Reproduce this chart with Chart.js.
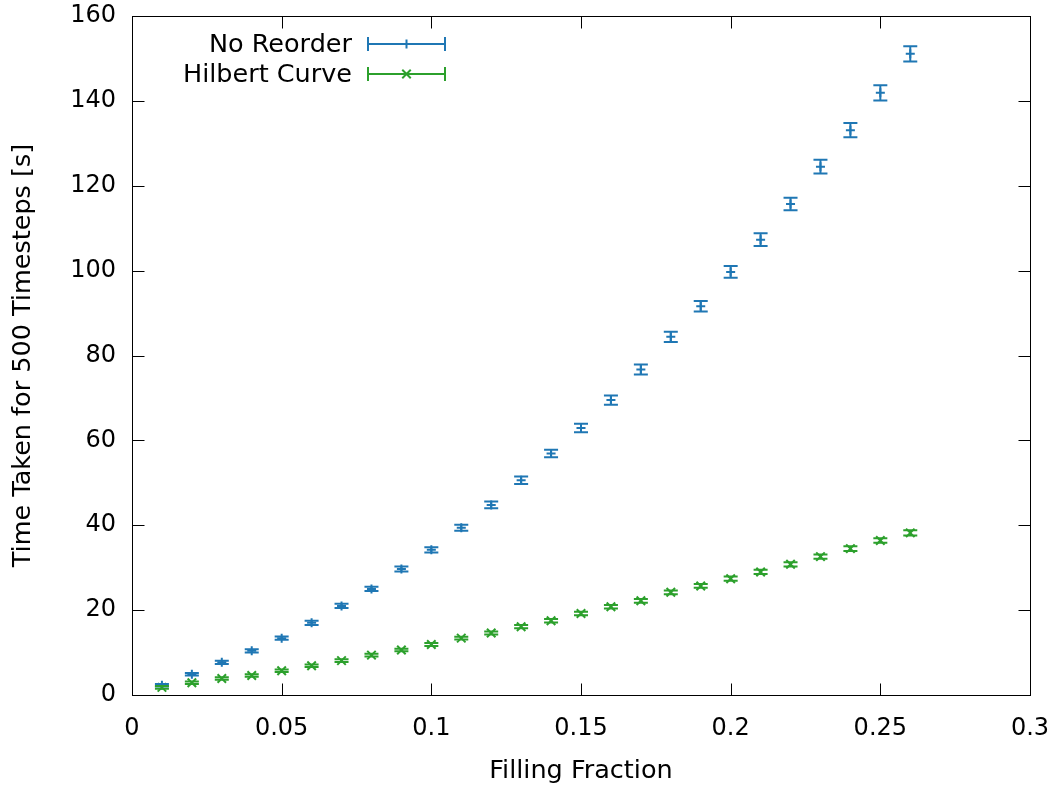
<!DOCTYPE html>
<html>
<head>
<meta charset="utf-8">
<script src="https://cdn.jsdelivr.net/npm/chart.js@4/dist/chart.umd.min.js"></script>
<style>
  html, body { margin: 0; padding: 0; background: #ffffff; }
  canvas { display: block; }
</style>
</head>
<body>
<canvas id="chart" width="1061" height="791"></canvas>
<script>
// Filling fraction of the domain
const fillingFraction = [0.01, 0.02, 0.03, 0.04, 0.05, 0.06, 0.07, 0.08, 0.09, 0.10,
  0.11, 0.12, 0.13, 0.14, 0.15, 0.16, 0.17, 0.18, 0.19, 0.20,
  0.21, 0.22, 0.23, 0.24, 0.25, 0.26];

// Wall time for 500 timesteps without any particle reordering
const noReorderTime = [2.3, 4.9, 7.7, 10.4, 13.4, 17.0, 21.0, 25.0, 29.7, 34.2,
  39.4, 44.8, 50.6, 56.9, 62.9, 69.5, 76.7, 84.4, 91.6, 99.7,
  107.3, 115.7, 124.5, 133.1, 141.9, 151.1];
const noReorderErr = [0.3, 0.3, 0.4, 0.4, 0.4, 0.5, 0.5, 0.5, 0.6, 0.6,
  0.7, 0.8, 0.9, 0.9, 1.0, 1.1, 1.2, 1.2, 1.25, 1.4,
  1.5, 1.5, 1.6, 1.7, 1.8, 1.8];

// Wall time with particles sorted along a Hilbert curve
const hilbertTime = [1.8, 2.9, 3.9, 4.6, 5.7, 6.9, 8.1, 9.4, 10.6, 11.9,
  13.4, 14.6, 16.1, 17.5, 19.2, 20.8, 22.2, 24.2, 25.7, 27.4,
  29.0, 30.8, 32.6, 34.5, 36.4, 38.2];
const hilbertErr = [0.3, 0.3, 0.3, 0.3, 0.3, 0.3, 0.3, 0.3, 0.3, 0.35,
  0.35, 0.35, 0.4, 0.4, 0.4, 0.4, 0.45, 0.45, 0.45, 0.5,
  0.5, 0.5, 0.5, 0.55, 0.55, 0.6];

const xTicks = [0, 0.05, 0.1, 0.15, 0.2, 0.25, 0.3];
const yTicks = [0, 20, 40, 60, 80, 100, 120, 140, 160];

const BLUE = '#1f77b4';
const GREEN = '#2ca02c';
const FONT = "'DejaVu Sans', sans-serif";

const toPoints = (xs, ys) => xs.map((x, i) => ({ x: x, y: ys[i] }));

// Vertical error bars with caps, placed through the chart's own scales
const errorBars = {
  id: 'errorBars',
  afterDatasetsDraw(chart) {
    const ctx = chart.ctx;
    const ys = chart.scales.y;
    chart.data.datasets.forEach((ds, di) => {
      const meta = chart.getDatasetMeta(di);
      ctx.save();
      ctx.strokeStyle = ds.borderColor;
      ctx.lineWidth = 2;
      meta.data.forEach((pt, i) => {
        const v = ds.data[i].y;
        const e = ds.errors[i];
        const x = pt.x;
        const lo = ys.getPixelForValue(v - e);
        const hi = ys.getPixelForValue(v + e);
        ctx.beginPath();
        ctx.moveTo(x, lo); ctx.lineTo(x, hi);
        ctx.moveTo(x - 7, lo); ctx.lineTo(x + 7, lo);
        ctx.moveTo(x - 7, hi); ctx.lineTo(x + 7, hi);
        ctx.stroke();
      });
      ctx.restore();
    });
  }
};

// Closed frame with inward ticks on all four sides
const frame = {
  id: 'frame',
  afterDraw(chart) {
    const ctx = chart.ctx;
    const a = chart.chartArea;
    const xs = chart.scales.x, ys = chart.scales.y;
    const L = Math.round(a.left) + 0.5, R = Math.round(a.right) + 0.5;
    const T = Math.round(a.top) + 0.5, B = Math.round(a.bottom) + 0.5;
    const len = 12;
    ctx.save();
    ctx.strokeStyle = '#000';
    ctx.lineWidth = 1;
    ctx.beginPath();
    xs.ticks.forEach(t => {
      const px = Math.round(xs.getPixelForValue(t.value)) + 0.5;
      ctx.moveTo(px, B); ctx.lineTo(px, B - len);
      ctx.moveTo(px, T); ctx.lineTo(px, T + len);
    });
    ys.ticks.forEach(t => {
      const py = Math.round(ys.getPixelForValue(t.value)) + 0.5;
      ctx.moveTo(L, py); ctx.lineTo(L + len, py);
      ctx.moveTo(R, py); ctx.lineTo(R - len, py);
    });
    ctx.stroke();
    ctx.strokeRect(L, T, R - L, B - T);
    ctx.restore();
  }
};

// Key in the upper left: label, then a sample error bar with the point marker
const key = {
  id: 'key',
  afterDraw(chart) {
    const ctx = chart.ctx;
    const a = chart.chartArea;
    const textRight = a.left + 220;
    const x0 = a.left + 236, x1 = a.left + 313, xm = (x0 + x1) / 2;
    ctx.save();
    ctx.font = '25.5px ' + FONT;
    ctx.textAlign = 'right';
    ctx.textBaseline = 'middle';
    chart.data.datasets.forEach((ds, i) => {
      const y = a.top + 28 + i * 30;
      ctx.fillStyle = '#000';
      ctx.fillText(ds.label, textRight, y + 1);
      ctx.strokeStyle = ds.borderColor;
      ctx.lineWidth = 2;
      ctx.beginPath();
      ctx.moveTo(x0, y); ctx.lineTo(x1, y);
      ctx.moveTo(x0, y - 7); ctx.lineTo(x0, y + 7);
      ctx.moveTo(x1, y - 7); ctx.lineTo(x1, y + 7);
      ctx.stroke();
      Chart.helpers.drawPoint(ctx, {
        pointStyle: ds.pointStyle, radius: ds.pointRadius, rotation: 0,
        borderWidth: 2
      }, xm, y);
    });
    ctx.restore();
  }
};

new Chart(document.getElementById('chart'), {
  type: 'scatter',
  data: {
    datasets: [
      {
        label: 'No Reorder',
        data: toPoints(fillingFraction, noReorderTime),
        errors: noReorderErr,
        borderColor: BLUE,
        backgroundColor: BLUE,
        pointStyle: 'cross',
        pointRadius: 4.5,
        pointBorderWidth: 2,
        pointHoverRadius: 4.5
      },
      {
        label: 'Hilbert Curve',
        data: toPoints(fillingFraction, hilbertTime),
        errors: hilbertErr,
        borderColor: GREEN,
        backgroundColor: GREEN,
        pointStyle: 'crossRot',
        pointRadius: 6,
        pointBorderWidth: 2,
        pointHoverRadius: 6
      }
    ]
  },
  options: {
    responsive: false,
    animation: false,
    events: [],
    layout: { padding: { left: 0, right: 31, top: 16, bottom: 0 } },
    plugins: { legend: { display: false }, tooltip: { enabled: false } },
    scales: {
      x: {
        type: 'linear', min: 0, max: 0.3,
        grid: { display: false },
        border: { display: false },
        afterBuildTicks: s => { s.ticks = xTicks.map(v => ({ value: v })); },
        afterFit: s => { s.height = 96; s.paddingLeft = 0; s.paddingRight = 0; },
        ticks: {
          color: '#000', padding: 11, maxRotation: 0, autoSkip: false,
          font: { family: FONT, size: 24 },
          callback: v => String(v)
        },
        title: {
          display: true, text: 'Filling Fraction', color: '#000',
          font: { family: FONT, size: 25.5 }, padding: { top: 0, bottom: 4 }
        }
      },
      y: {
        type: 'linear', min: 0, max: 160,
        grid: { display: false },
        border: { display: false },
        afterBuildTicks: s => { s.ticks = yTicks.map(v => ({ value: v })); },
        afterFit: s => { s.width = 132; s.paddingTop = 0; s.paddingBottom = 0; },
        ticks: {
          color: '#000', padding: 8, autoSkip: false,
          font: { family: FONT, size: 24 },
          callback: v => String(v)
        },
        title: {
          display: true, text: 'Time Taken for 500 Timesteps [s]', color: '#000',
          font: { family: FONT, size: 25.5 }, padding: { top: 8, bottom: 0 }
        }
      }
    }
  },
  plugins: [errorBars, frame, key]
});
</script>
</body>
</html>
